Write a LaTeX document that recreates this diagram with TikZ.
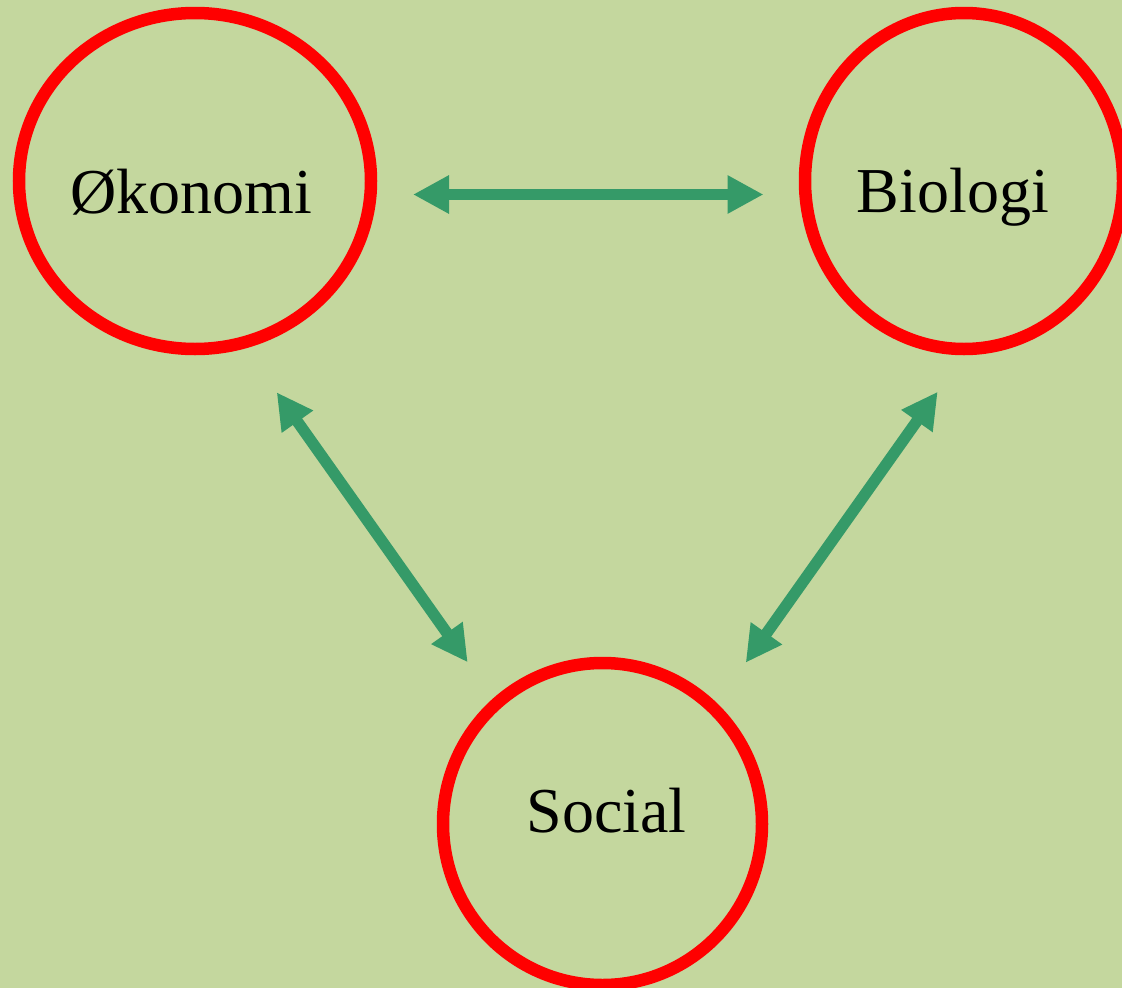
\documentclass[tikz,border=0pt]{standalone}
\usepackage{fontspec}
\setmainfont{Liberation Serif}
\usetikzlibrary{arrows.meta,shapes.geometric}
\definecolor{bgcol}{HTML}{C4D79E}
\definecolor{ringred}{HTML}{FF0000}
\definecolor{arrgreen}{HTML}{359A68}
\tikzset{
  ring/.style={draw=ringred, line width=12.5pt, ellipse, inner sep=0pt, fill=none},
  lbl/.style={anchor=base, inner sep=0pt, text=black, font=\fontsize{64}{76}\selectfont},
  link/.style={draw=arrgreen, line width=11.4pt, {Triangle[length=36pt,width=36pt]}-{Triangle[length=36pt,width=36pt]}}
}
\begin{document}
\begin{tikzpicture}[x=1pt,y=-1pt]
\fill[bgcol] (0,0) rectangle (1122,988);
\useasboundingbox (0,0) rectangle (1122,988);
% rings
\node[ring, minimum width=352pt, minimum height=336pt] (oko) at (195,181) {};
\node[ring, minimum width=318pt, minimum height=336pt] (bio) at (964,181) {};
\node[ring, minimum width=319pt, minimum height=322pt] (soc) at (602.5,824) {};
% labels
\node[lbl] (tOko) at (191,213.3) {Økonomi};
\node[lbl] (tBio) at (953,212.7) {Biologi};
\node[lbl] (tSoc) at (606.5,832) {Social};
% connector ends
\coordinate (hL) at (413,194.5);
\coordinate (hR) at (763.5,194.5);
\coordinate (dLt) at (276.7,392.3);
\coordinate (dLb) at (467.7,662.3);
\coordinate (dRt) at (937.7,391.7);
\coordinate (dRb) at (745.7,662.7);
% connectors
\draw[link] (hL) -- (hR);
\draw[link] (dLt) -- (dLb);
\draw[link] (dRt) -- (dRb);
\end{tikzpicture}
\end{document}
